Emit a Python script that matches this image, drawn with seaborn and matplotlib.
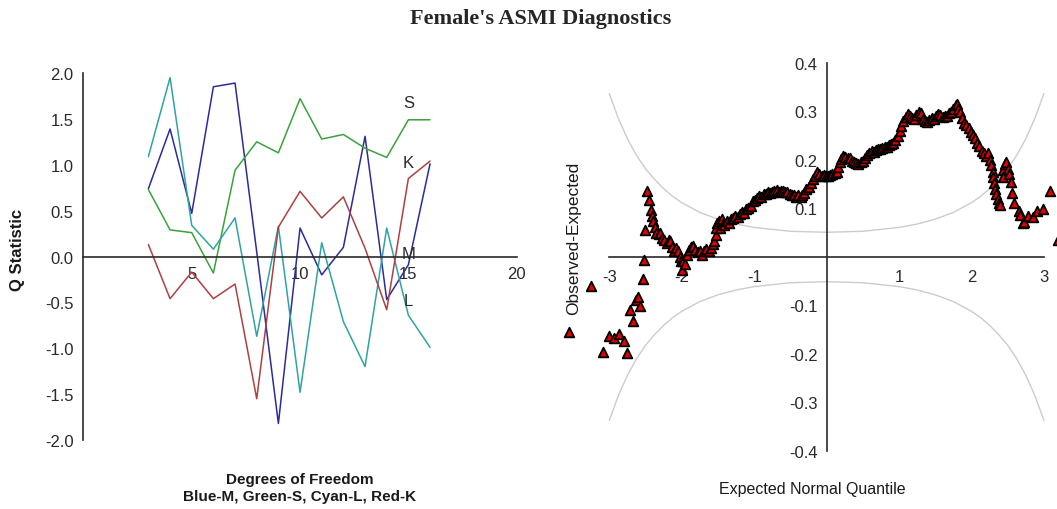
import numpy as np
import pandas as pd
import seaborn as sns
import matplotlib.pyplot as plt

# ---- left panel: Q statistic by degrees of freedom ----
dof = [3, 4, 5, 6, 7, 8, 9, 10, 11, 12, 13, 14, 15, 16]
q_m = [0.74, 1.39, 0.47, 1.85, 1.89, 0.05, -1.82, 0.31, -0.20, 0.10, 1.31, -0.47, -0.09, 1.01]
q_s = [0.73, 0.29, 0.26, -0.18, 0.94, 1.25, 1.13, 1.72, 1.28, 1.33, 1.18, 1.08, 1.49, 1.49]
q_l = [1.09, 1.95, 0.34, 0.08, 0.42, -0.87, 0.33, -1.48, 0.15, -0.71, -1.20, 0.31, -0.64, -0.99]
q_k = [0.13, -0.46, -0.17, -0.46, -0.30, -1.55, 0.32, 0.71, 0.42, 0.65, 0.09, -0.58, 0.85, 1.04]
series_names = ['M', 'S', 'L', 'K']
series_colors = {'M': '#2b2b9c', 'S': '#3aa23a', 'L': '#2fa3a3', 'K': '#ad4040'}
end_labels = ['S', 'K', 'M', 'L']
end_label_y = [1.68, 1.02, 0.03, -0.48]
left_xticks = [5, 10, 15, 20]
left_yticks = [2.0, 1.5, 1.0, 0.5, 0.0, -0.5, -1.0, -1.5, -2.0]

# ---- right panel: detrended normal Q-Q ----
qq_x = [-3.56, -3.25, -3.09, -3.01, -2.93, -2.86, -2.80, -2.75, -2.71, -2.67,
        -2.63, -2.60, -2.57, -2.53, -2.52, -2.51, -2.48, -2.45, -2.43, -2.41,
        -2.39, -2.37, -2.35, -2.32, -2.30, -2.27, -2.24, -2.21, -2.18, -2.16,
        -2.13, -2.10, -2.08, -2.05, -2.03, -2.01, -1.99, -1.98, -1.96, -1.93,
        -1.90, -1.87, -1.84, -1.81, -1.78, -1.75, -1.72, -1.69, -1.66, -1.63,
        -1.60, -1.57, -1.55, -1.53, -1.52, -1.51, -1.49, -1.47, -1.45, -1.43,
        -1.41, -1.38, -1.35, -1.32, -1.29, -1.26, -1.23, -1.20, -1.17, -1.14,
        -1.11, -1.08, -1.05, -1.02, -0.99, -0.96, -0.93, -0.90, -0.87, -0.84,
        -0.81, -0.78, -0.75, -0.72, -0.69, -0.66, -0.63, -0.60, -0.57, -0.54,
        -0.51, -0.48, -0.45, -0.42, -0.39, -0.36, -0.34, -0.31, -0.28, -0.25,
        -0.22, -0.19, -0.16, -0.13, -0.10, -0.07, -0.04, -0.01, 0.02, 0.05,
        0.08, 0.11, 0.14, 0.16, 0.18, 0.20, 0.23, 0.26, 0.29, 0.32,
        0.35, 0.38, 0.41, 0.44, 0.47, 0.50, 0.53, 0.56, 0.59, 0.62,
        0.65, 0.68, 0.71, 0.74, 0.77, 0.80, 0.83, 0.86, 0.89, 0.92,
        0.95, 0.98, 1.01, 1.03, 1.06, 1.09, 1.12, 1.15, 1.18, 1.21,
        1.24, 1.27, 1.30, 1.33, 1.36, 1.39, 1.42, 1.45, 1.48, 1.51,
        1.54, 1.57, 1.60, 1.63, 1.66, 1.69, 1.72, 1.75, 1.78, 1.80,
        1.82, 1.84, 1.87, 1.90, 1.93, 1.96, 1.99, 2.02, 2.05, 2.08,
        2.11, 2.14, 2.17, 2.20, 2.23, 2.25, 2.27, 2.29, 2.30, 2.31,
        2.33, 2.34, 2.36, 2.38, 2.40, 2.43, 2.44, 2.46, 2.48, 2.50,
        2.52, 2.54, 2.56, 2.59, 2.65, 2.67, 2.71, 2.73, 2.78, 2.85,
        2.91, 2.98, 3.08, 3.20]
qq_y = [-0.155, -0.060, -0.195, -0.163, -0.168, -0.158, -0.173, -0.197, -0.109, -0.132,
        -0.089, -0.082, -0.101, -0.045, -0.007, 0.055, 0.137, 0.117, 0.096, 0.085,
        0.074, 0.062, 0.050, 0.047, 0.050, 0.040, 0.036, 0.029, 0.035, 0.033,
        0.020, 0.012, 0.018, 0.012, 0.000, -0.008, -0.026, -0.008, -0.015, 0.005,
        0.015, 0.020, 0.023, 0.015, 0.010, 0.012, 0.005, 0.012, 0.016, 0.012,
        0.018, 0.026, 0.033, 0.045, 0.060, 0.070, 0.074, 0.060, 0.078, 0.068,
        0.065, 0.074, 0.070, 0.078, 0.081, 0.084, 0.082, 0.088, 0.092, 0.090,
        0.098, 0.102, 0.106, 0.115, 0.118, 0.122, 0.126, 0.124, 0.130, 0.129,
        0.133, 0.131, 0.135, 0.136, 0.139, 0.135, 0.137, 0.136, 0.133, 0.134,
        0.130, 0.128, 0.127, 0.124, 0.127, 0.123, 0.128, 0.132, 0.140, 0.145,
        0.152, 0.160, 0.168, 0.175, 0.172, 0.168, 0.170, 0.167, 0.168, 0.169,
        0.171, 0.173, 0.176, 0.185, 0.195, 0.202, 0.208, 0.206, 0.204, 0.205,
        0.198, 0.196, 0.194, 0.192, 0.195, 0.198, 0.204, 0.210, 0.214, 0.219,
        0.216, 0.220, 0.222, 0.222, 0.225, 0.227, 0.226, 0.230, 0.233, 0.236,
        0.242, 0.250, 0.260, 0.270, 0.280, 0.288, 0.294, 0.290, 0.286, 0.284,
        0.292, 0.298, 0.296, 0.285, 0.280, 0.278, 0.282, 0.286, 0.284, 0.290,
        0.294, 0.292, 0.288, 0.290, 0.291, 0.296, 0.300, 0.306, 0.314, 0.316,
        0.306, 0.298, 0.286, 0.277, 0.272, 0.265, 0.258, 0.252, 0.245, 0.236,
        0.228, 0.219, 0.214, 0.208, 0.215, 0.200, 0.190, 0.176, 0.165, 0.153,
        0.140, 0.130, 0.120, 0.112, 0.108, 0.180, 0.165, 0.192, 0.195, 0.182,
        0.172, 0.155, 0.132, 0.112, 0.095, 0.086, 0.071, 0.072, 0.084, 0.083,
        0.094, 0.098, 0.136, 0.035]

# confidence band (symmetric about 0)
band_x = [-3.0, -2.875, -2.75, -2.625, -2.5, -2.375, -2.25, -2.125, -2.0, -1.75,
          -1.5, -1.25, -1.0, -0.75, -0.5, -0.25, 0.0, 0.25, 0.5, 0.75,
          1.0, 1.25, 1.5, 1.75, 2.0, 2.125, 2.25, 2.375, 2.5, 2.625,
          2.75, 2.875, 3.0]
band_hi = [0.337, 0.286, 0.244, 0.210, 0.182, 0.160, 0.141, 0.125, 0.112, 0.092,
           0.078, 0.068, 0.061, 0.057, 0.053, 0.052, 0.051, 0.052, 0.053, 0.057,
           0.061, 0.068, 0.078, 0.092, 0.112, 0.125, 0.141, 0.160, 0.182, 0.210,
           0.244, 0.286, 0.337]
right_xticks = [-3, -2, -1, 1, 2, 3]
right_yticks = [0.4, 0.3, 0.2, 0.1, -0.1, -0.2, -0.3, -0.4]

sns.set_style('white')
plt.rcParams['font.family'] = ['Liberation Sans', 'DejaVu Sans']

W, H = 1057, 510
fig = plt.figure(figsize=(W / 100, H / 100), dpi=100)
axc = '#2a2a2a'

# left axes: x 0..20 -> px 83.4..516.7, y -2..2 -> px 441..74
ax1 = fig.add_axes([83.4 / W, 1 - 441 / H, (516.7 - 83.4) / W, (441 - 74) / H])
long_df = pd.DataFrame({
    'dof': dof * 4,
    'q': q_m + q_s + q_l + q_k,
    'series': [s for s in series_names for _ in dof],
})
sns.lineplot(data=long_df, x='dof', y='q', hue='series', palette=series_colors,
             estimator=None, sort=False, legend=False, linewidth=1.1, ax=ax1)
for lab, yy in zip(end_labels, end_label_y):
    ax1.text(15.0, yy, lab, ha='center', va='center', fontsize=12, color='#2a2a2a')
ax1.set_xlim(0, 20)
ax1.set_ylim(-2, 2)
ax1.spines['top'].set_visible(False)
ax1.spines['right'].set_visible(False)
ax1.spines['bottom'].set_position(('data', 0))
for sp in ['left', 'bottom']:
    ax1.spines[sp].set_color(axc)
    ax1.spines[sp].set_linewidth(1.2)
ax1.set_xticks(left_xticks)
ax1.set_xticklabels([str(t) for t in left_xticks])
ax1.set_yticks(left_yticks)
ax1.set_yticklabels([f'{t:.1f}' for t in left_yticks])
ax1.tick_params(axis='x', direction='inout', length=9, width=1.2, pad=2,
                labelsize=12, colors=axc)
ax1.tick_params(axis='y', direction='out', length=5, width=1.2, pad=2,
                labelsize=12, colors=axc)
ax1.set_xlabel('Degrees of Freedom\nBlue-M, Green-S, Cyan-L, Red-K',
               fontsize=11, fontweight='bold', color='#1a1a1a', linespacing=1.3)
ax1.xaxis.set_label_coords(0.5, -0.086)
ax1.set_ylabel('Q Statistic', fontsize=12, fontweight='bold', color='#1a1a1a')
ax1.yaxis.set_label_coords(-0.135, 0.52)

# right axes: x -3.68..3.18 -> px 560..1057, y -0.4..0.4 -> px 452..64
ax2 = fig.add_axes([560 / W, 1 - 452 / H, (1057 - 560) / W, (452 - 64) / H])
ax2.plot(band_x, band_hi, color='#cccccc', linewidth=1.0)
ax2.plot(band_x, [-v for v in band_hi], color='#cccccc', linewidth=1.0)
sns.scatterplot(x=qq_x, y=qq_y, marker='^', s=48, color='#e00000',
                edgecolor='black', linewidth=1.3, ax=ax2, zorder=3)
ax2.set_xlim(-3.68, 3.18)
ax2.set_ylim(-0.4, 0.4)
ax2.spines['top'].set_visible(False)
ax2.spines['right'].set_visible(False)
ax2.spines['left'].set_position(('data', 0))
ax2.spines['bottom'].set_position(('data', 0))
ax2.spines['bottom'].set_bounds(-3, 3)
ax2.spines['left'].set_bounds(-0.4, 0.4)
for sp in ['left', 'bottom']:
    ax2.spines[sp].set_color(axc)
    ax2.spines[sp].set_linewidth(1.2)
    ax2.spines[sp].set_zorder(2)
ax2.set_xticks(right_xticks)
ax2.set_xticklabels([str(t) for t in right_xticks])
ax2.set_yticks(right_yticks)
ax2.set_yticklabels([f'{t:.1f}' for t in right_yticks])
ax2.tick_params(axis='x', direction='inout', length=11, width=1.2, pad=3,
                labelsize=12, colors=axc)
ax2.tick_params(axis='y', direction='inout', length=12, width=1.2, pad=0.5,
                labelsize=12, colors=axc)
ax2.set_xlabel('Expected Normal Quantile', fontsize=11.5, color='#1a1a1a')
ax2.xaxis.set_label_coords(0.508, -0.078)
ax2.set_ylabel('Observed-Expected', fontsize=12.5, color='#1a1a1a')
ax2.yaxis.set_label_coords(0.043, 0.55)

fig.text(0.511, 0.962, "Female's ASMI Diagnostics", ha='center', va='center',
         fontsize=16, fontweight='bold', family=['Liberation Serif', 'DejaVu Serif'])

fig.savefig('out.png', dpi=100)
